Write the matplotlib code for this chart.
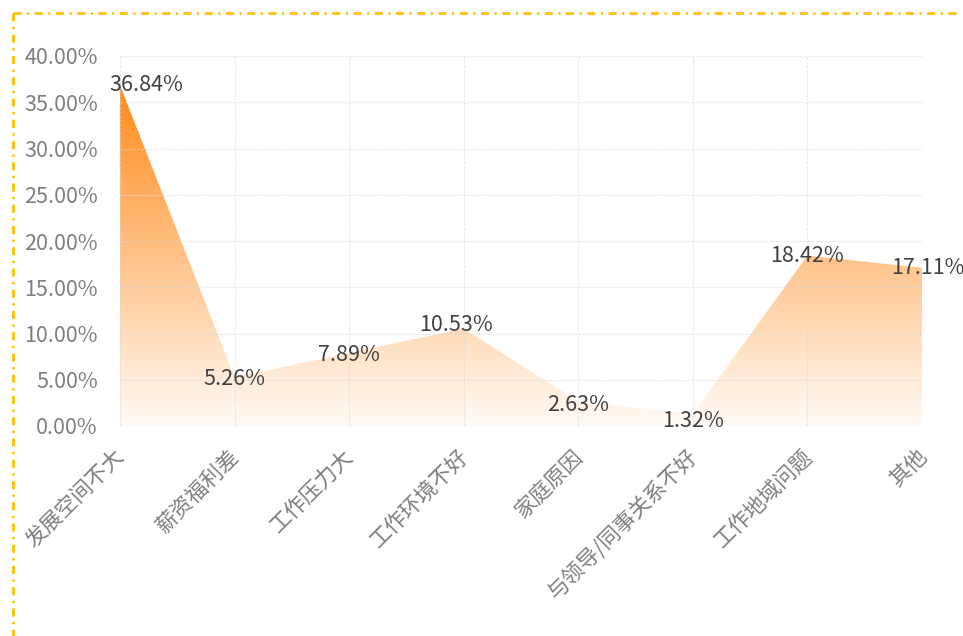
import matplotlib
matplotlib.use("Agg")
import matplotlib.pyplot as plt
import matplotlib.transforms as mtransforms
from matplotlib.lines import Line2D
from matplotlib.colors import LinearSegmentedColormap
from matplotlib.patches import Polygon
import numpy as np

plt.rcParams['font.family'] = ['Noto Sans CJK SC', 'DejaVu Sans']
plt.rcParams['lines.scale_dashes'] = False

categories = ["发展空间不大", "薪资福利差", "工作压力大", "工作环境不好", "家庭原因",
              "与领导/同事关系不好", "工作地域问题", "其他"]
values = [36.84, 5.26, 7.89, 10.53, 2.63, 1.32, 18.42, 17.11]
yticks = [0, 5, 10, 15, 20, 25, 30, 35, 40]

W, H = 963, 636
fig = plt.figure(figsize=(W / 100, H / 100), dpi=100)
ax = fig.add_axes([120 / W, 1 - 426 / H, (922 - 120) / W, (426 - 56) / H])

x = np.arange(len(categories))
ax.set_xlim(x[0], x[-1])
ax.set_ylim(0, 40)

# gradient fill clipped to area polygon
verts = [(x[0], 0)] + list(zip(x, values)) + [(x[-1], 0)]
poly = Polygon(verts, closed=True, facecolor='none', edgecolor='none')
ax.add_patch(poly)
cmap = LinearSegmentedColormap.from_list('g', ['#FFFBF7', '#FF8A18'])
grad = np.linspace(0, 1, 256).reshape(-1, 1)
im = ax.imshow(grad, cmap=cmap, aspect='auto', origin='lower',
               extent=[x[0], x[-1], 0, max(values)], zorder=2)
im.set_clip_path(poly)

# grid
ax.set_yticks(yticks)
ax.set_xticks(x)
for s in ax.spines.values():
    s.set_visible(False)
gkw = dict(color='#D9D9D9', linestyle=(0, (2, 1)), linewidth=0.8, alpha=0.6, zorder=3)
for yv in yticks:
    ax.axhline(yv, **gkw)
for xv in x:
    ax.axvline(xv, **gkw)

ax.set_yticklabels([f"{v:.2f}%" for v in yticks], color='#7F7F7F', fontsize=15.5)
ax.tick_params(axis='both', length=0)
ax.tick_params(axis='y', pad=16)
ax.set_xticklabels([])

# category labels, rotated
trans = mtransforms.blended_transform_factory(ax.transData, ax.transAxes) + \
    mtransforms.ScaledTranslation(9 / 100, -19 / 100, fig.dpi_scale_trans)
for xi, cat in zip(x, categories):
    ax.text(xi, 0, cat, transform=trans, rotation=45, ha='right', va='top',
            color='#7F7F7F', fontsize=15.5, clip_on=False)

# data labels
dx = [26, 0, 0, -8, 0, 0, 0, 6]
dy = [0, -2, -2, 4, -3, -7, 0, 0]
for xi, v, ox, oy in zip(x, values, dx, dy):
    ax.annotate(f"{v:.2f}%", (xi, v), xytext=(ox * 0.72, oy * 0.72),
                textcoords='offset points', ha='center', va='center',
                fontsize=15.5, color='#404040', zorder=5)

# dash-dot border (top and left)
bc = '#FFC000'
dash = (0, (5.8, 4.0, 1.5, 4.0))
fig.add_artist(Line2D([13 / W, 958 / W], [1 - 13 / H, 1 - 13 / H], transform=fig.transFigure,
                      color=bc, linewidth=2, linestyle=dash))
fig.add_artist(Line2D([13 / W, 13 / W], [1 - 13 / H, 0], transform=fig.transFigure,
                      color=bc, linewidth=2, linestyle=dash))

fig.savefig("out.png", dpi=100)
